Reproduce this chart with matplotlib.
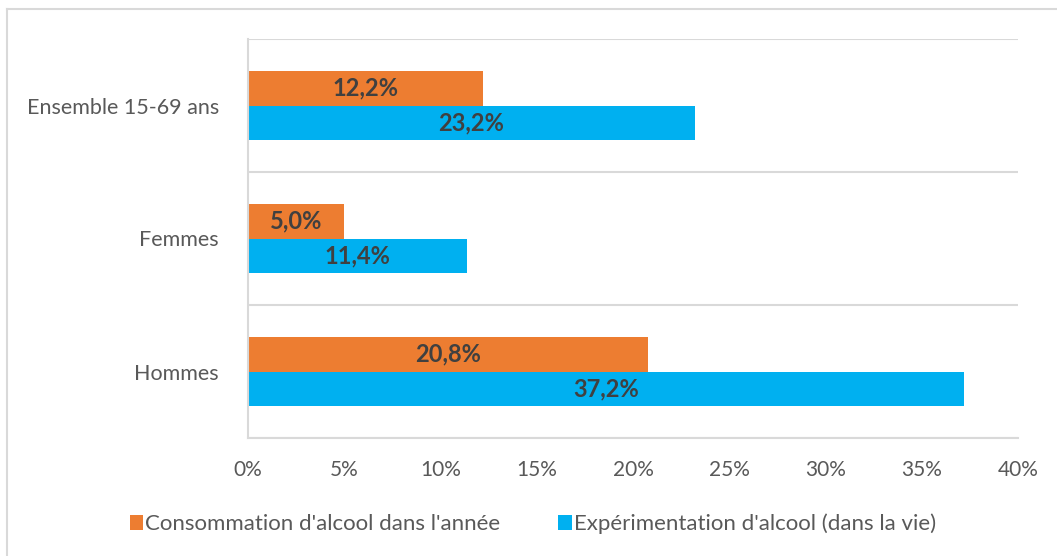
import numpy as np
import matplotlib
matplotlib.use("Agg")
from matplotlib import pyplot as plt
from matplotlib.lines import Line2D
from matplotlib.ticker import FuncFormatter

categories = ["Hommes", "Femmes", "Ensemble 15-69 ans"]
conso_annee = [20.8, 5.0, 12.2]
experimentation = [37.2, 11.4, 23.2]
series_names = ["Consommation d'alcool dans l'année", "Expérimentation d'alcool (dans la vie)"]
xticks = [0, 5, 10, 15, 20, 25, 30, 35, 40]

plt.rcParams['font.family'] = ['Lato', 'DejaVu Sans']

orange = '#ED7D31'
blue = '#00B0F0'
grid_c = '#D9D9D9'
text_c = '#595959'

fig = plt.figure(figsize=(10.57, 5.56), dpi=100)
W, H = 1057, 556
ax = fig.add_axes([248 / W, 1 - 438 / H, (1018 - 248) / W, (438 - 39) / H])

y = np.arange(len(categories))
h = 0.263
b1 = ax.barh(y + h / 2, conso_annee, height=h, color=orange, label=series_names[0])
b2 = ax.barh(y - h / 2, experimentation, height=h, color=blue, label=series_names[1])

for bars, vals in ((b1, conso_annee), (b2, experimentation)):
    for r, v in zip(bars, vals):
        ax.text(r.get_x() + r.get_width() / 2, r.get_y() + r.get_height() / 2,
                f"{v:.1f}%".replace('.', ','), ha='center', va='center',
                fontsize=17, fontweight='bold', color='#404040')

ax.set_xlim(0, 40)
ax.set_ylim(-0.5, 2.5)
ax.set_xticks(xticks)
ax.xaxis.set_major_formatter(FuncFormatter(lambda v, p: f"{v:.0f}%"))
ax.set_yticks(y)
ax.set_yticklabels(categories)
ax.set_yticks([-0.5, 0.5, 1.5, 2.5], minor=True)
ax.grid(True, which='minor', axis='y', color=grid_c, linewidth=1.5)
ax.tick_params(axis='both', which='both', length=0, colors=text_c)
ax.tick_params(axis='x', labelsize=15, pad=16)
ax.tick_params(axis='y', labelsize=15.5, pad=21)
for s in ['top', 'right']:
    ax.spines[s].set_visible(False)
for s in ['left', 'bottom']:
    ax.spines[s].set_color(grid_c)
    ax.spines[s].set_linewidth(1.5)
ax.set_axisbelow(True)

fig.legend(handles=[b1, b2], loc='center', bbox_to_anchor=(533 / W, 1 - 524 / H),
           ncol=2, frameon=False, fontsize=16, labelcolor=text_c,
           handlelength=0.6, handleheight=0.6, handletextpad=0.1, columnspacing=2.6,
           borderpad=0, borderaxespad=0)

# cadre extérieur (gauche et haut)
fig.add_artist(Line2D([7 / W, 7 / W], [0, 1 - 9 / H], color=grid_c, linewidth=1.5))
fig.add_artist(Line2D([7 / W, 1], [1 - 9 / H, 1 - 9 / H], color=grid_c, linewidth=1.5))

fig.savefig("out.png", dpi=100)
